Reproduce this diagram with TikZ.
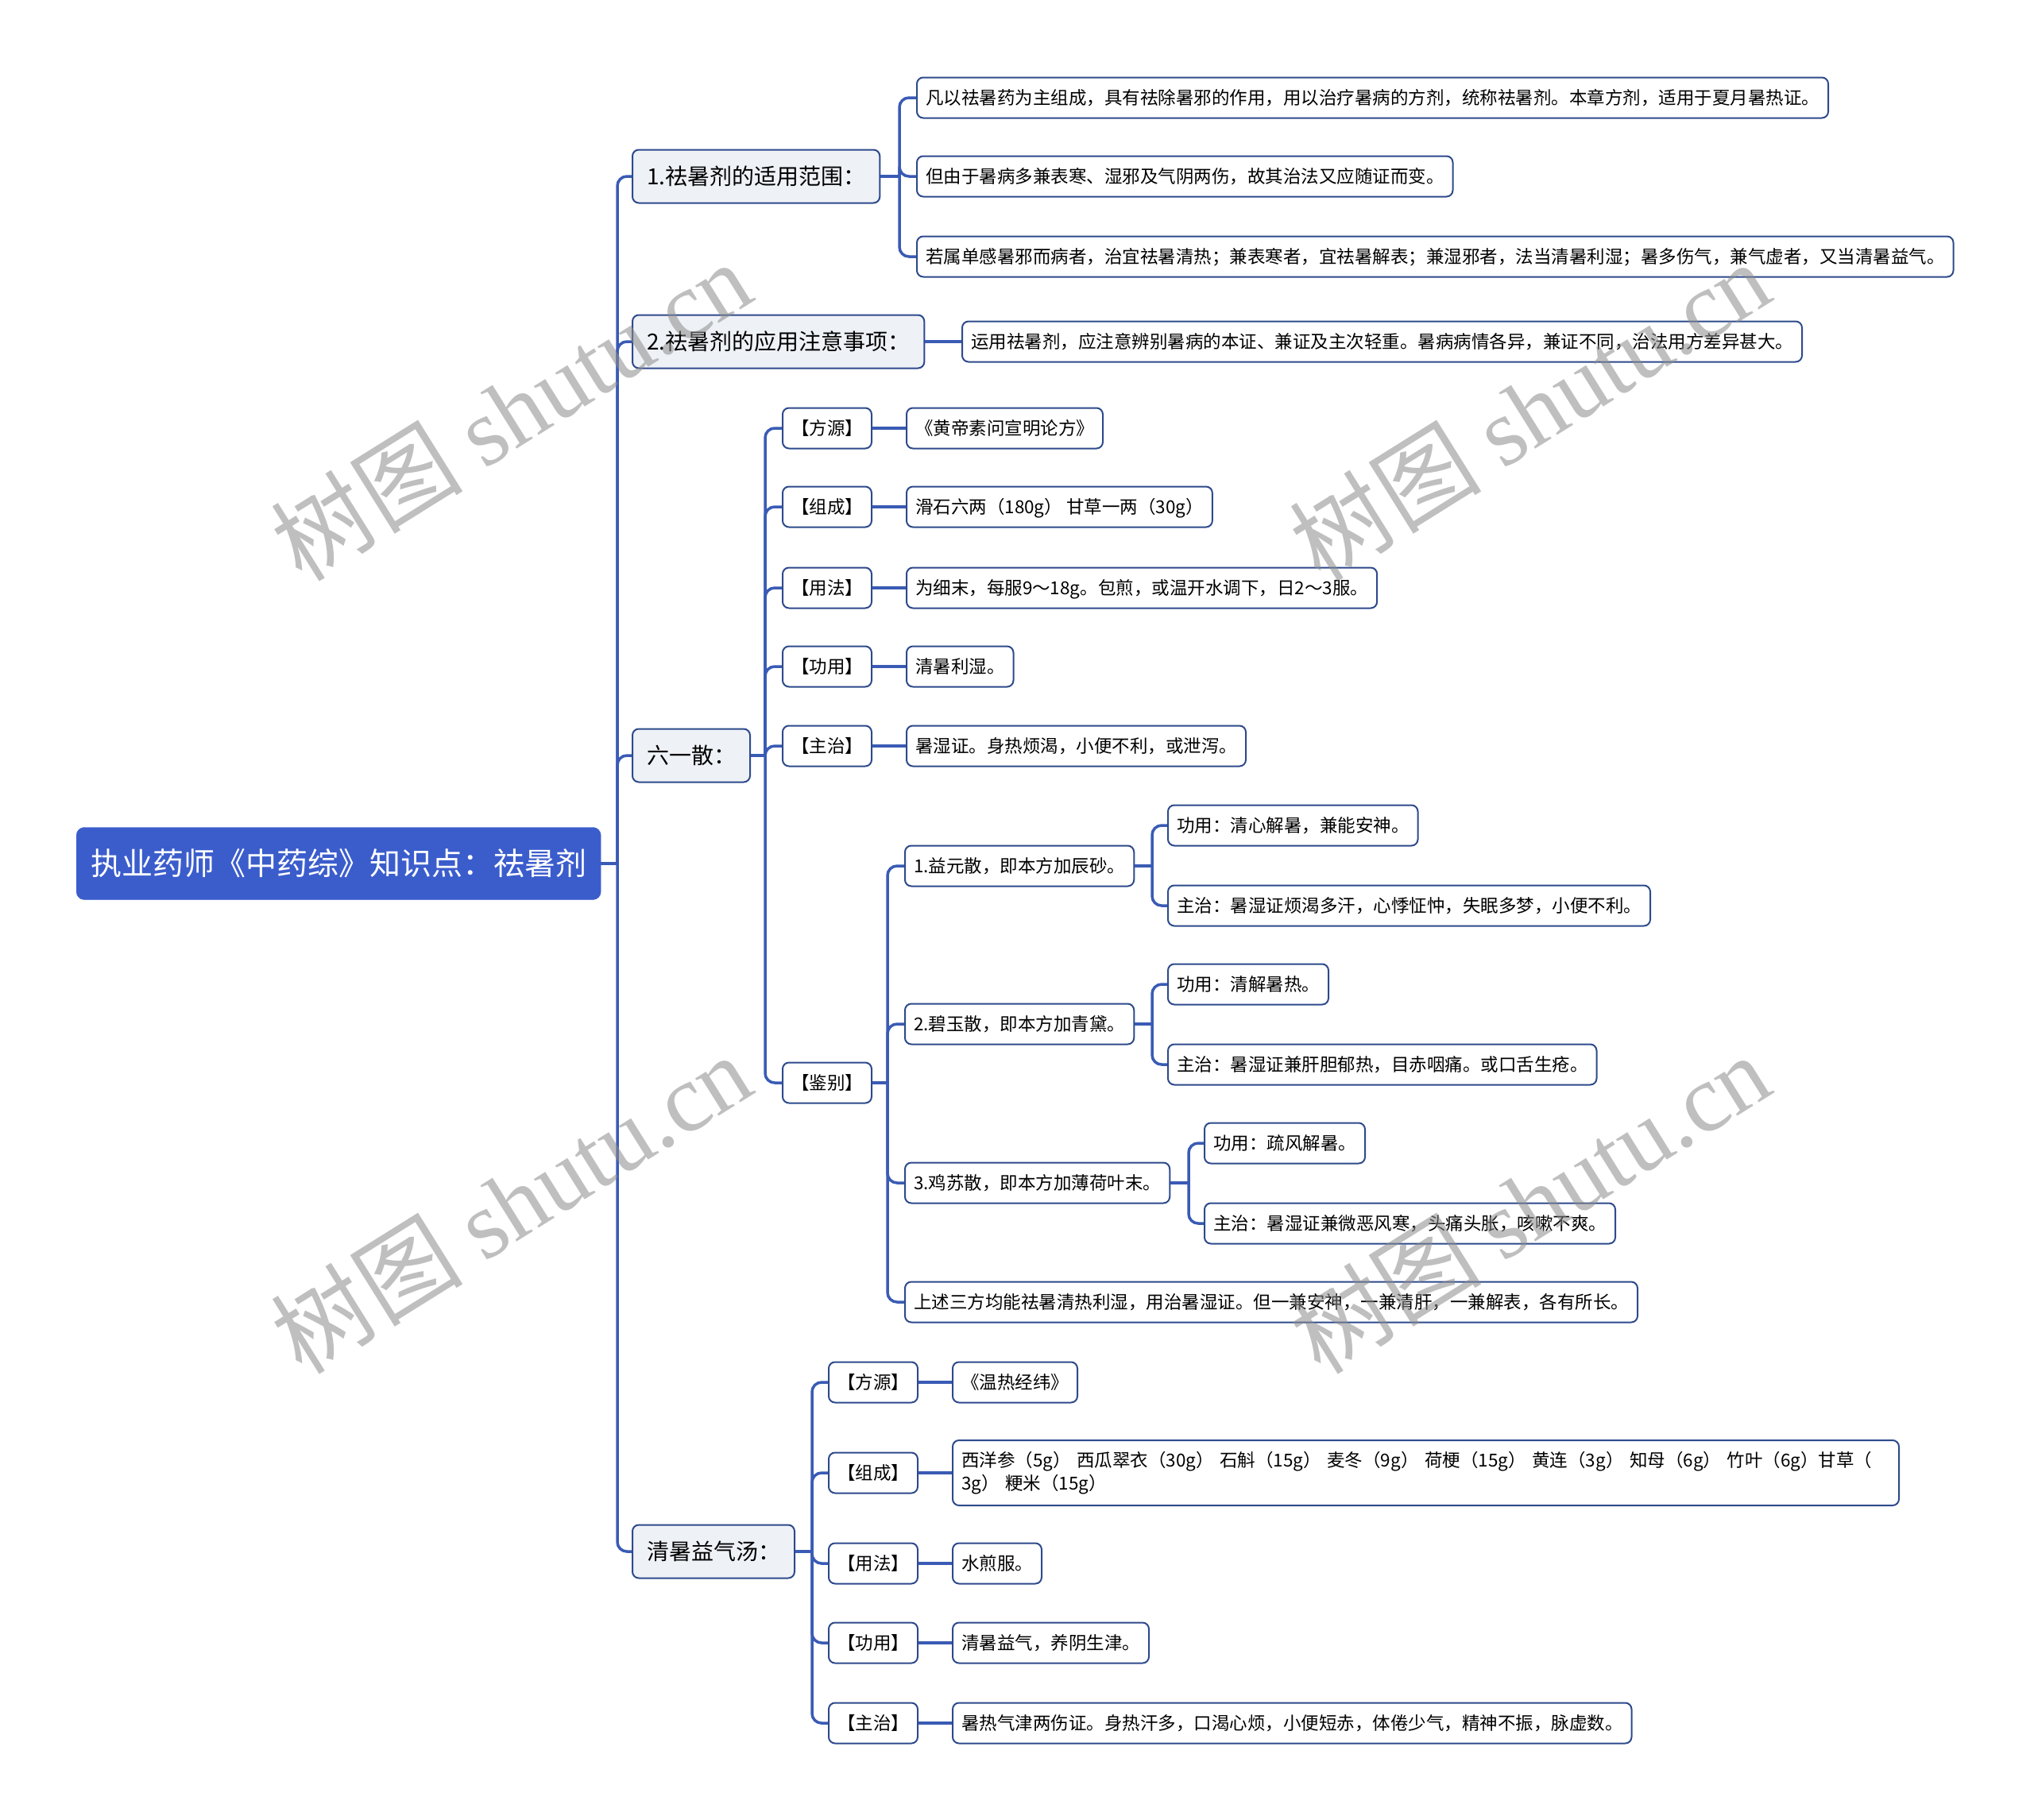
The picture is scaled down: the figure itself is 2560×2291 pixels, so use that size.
\documentclass[tikz,border=0pt]{standalone}
\usepackage{fontspec}
\setmainfont{Noto Sans CJK SC}
\newfontfamily\wmcjk{Noto Sans CJK SC}
\newfontfamily\wmlat{Liberation Serif}
\usetikzlibrary{positioning}
\definecolor{linec}{HTML}{3A5BB5}
\definecolor{boxc}{HTML}{2E4A8C}
\definecolor{rootc}{HTML}{3B5DCC}
\definecolor{lonefill}{HTML}{EEF1F6}
\tikzset{
  conn/.style={draw=linec, line width=3.5pt, rounded corners=12pt},
  boxbase/.style={rounded corners=8pt, line width=2pt, draw=boxc, anchor=west},
  leaf/.style={boxbase, text height=19.8pt, text depth=2.7pt, fill=white, font=\fontsize{22.5}{29}\selectfont, inner xsep=11pt, inner ysep=0pt, minimum height=51pt},
  leafml/.style={boxbase, fill=white, font=\fontsize{22.5}{29}\selectfont, inner xsep=11pt, inner ysep=0pt, minimum height=82pt, align=left},
  lvlone/.style={boxbase, text height=24.6pt, text depth=3.4pt, fill=lonefill, font=\fontsize{28}{34}\selectfont, inner xsep=18pt, inner ysep=0pt, minimum height=67pt},
  rootbox/.style={rounded corners=10pt, fill=rootc, draw=rootc, text=white, anchor=west, text height=34.3pt, text depth=4.7pt, font=\fontsize{39}{46}\selectfont, inner xsep=18pt, inner ysep=0pt, minimum height=91pt},
  wm/.style={rotate=32, text=black!45, text opacity=0.55, font=\fontsize{121}{136}\selectfont}
}
\begin{document}
\begin{tikzpicture}[x=1pt,y=-1pt]
\fill[white] (0,0) rectangle (2560,2291);
\useasboundingbox (0,0) rectangle (2560,2291);

% root and level one
\node[rootbox] (root) at (96,1087) {执业药师《中药综》知识点：祛暑剂};
\coordinate (j0) at (777,1087);
\node[lvlone] (n1) at (795,222) {1.祛暑剂的适用范围：};
\node[lvlone] (n2) at (795,430) {2.祛暑剂的应用注意事项：};
\node[lvlone] (n3) at (795,951) {六一散：};
\node[lvlone] (n4) at (795,1953) {清暑益气汤：};

% branch 1
\coordinate (j1) at (1132,222);
\node[leaf] (a1) at (1153,123) {凡以祛暑药为主组成，具有祛除暑邪的作用，用以治疗暑病的方剂，统称祛暑剂。本章方剂，适用于夏月暑热证。};
\node[leaf] (a2) at (1153,222) {但由于暑病多兼表寒、湿邪及气阴两伤，故其治法又应随证而变。};
\node[leaf] (a3) at (1153,323) {若属单感暑邪而病者，治宜祛暑清热；兼表寒者，宜祛暑解表；兼湿邪者，法当清暑利湿；暑多伤气，兼气虚者，又当清暑益气。};

% branch 2
\node[leaf] (b1) at (1210,430) {运用祛暑剂，应注意辨别暑病的本证、兼证及主次轻重。暑病病情各异，兼证不同，治法用方差异甚大。};

% branch 3
\coordinate (j3) at (963,951);
\node[leaf] (c1) at (984,539) {【方源】};
\node[leaf] (c2) at (984,638) {【组成】};
\node[leaf] (c3) at (984,740) {【用法】};
\node[leaf] (c4) at (984,839) {【功用】};
\node[leaf] (c5) at (984,939) {【主治】};
\node[leaf] (c6) at (984,1363) {【鉴别】};
\node[leaf, right=42pt of c1] (v1) {《黄帝素问宣明论方》};
\node[leaf, right=42pt of c2] (v2) {滑石六两（180g） 甘草一两（30g）};
\node[leaf, right=42pt of c3] (v3) {为细末，每服9～18g。包煎，或温开水调下，日2～3服。};
\node[leaf, right=42pt of c4] (v4) {清暑利湿。};
\node[leaf, right=42pt of c5] (v5) {暑湿证。身热烦渴，小便不利，或泄泻。};

\coordinate (j4) at (1117,1363);
\node[leaf] (d1) at (1138,1090) {1.益元散，即本方加辰砂。};
\node[leaf] (d2) at (1138,1289) {2.碧玉散，即本方加青黛。};
\node[leaf] (d3) at (1138,1489) {3.鸡苏散，即本方加薄荷叶末。};
\node[leaf] (d4) at (1138,1639) {上述三方均能祛暑清热利湿，用治暑湿证。但一兼安神，一兼清肝，一兼解表，各有所长。};

\coordinate (j5) at (1450,1090);
\node[leaf] (e1) at (1469,1039) {功用：清心解暑，兼能安神。};
\node[leaf] (e2) at (1469,1140) {主治：暑湿证烦渴多汗，心悸怔忡，失眠多梦，小便不利。};
\coordinate (j6) at (1450,1289);
\node[leaf] (e3) at (1469,1239) {功用：清解暑热。};
\node[leaf] (e4) at (1469,1340) {主治：暑湿证兼肝胆郁热，目赤咽痛。或口舌生疮。};
\coordinate (j7) at (1496,1489);
\node[leaf] (e5) at (1515,1439) {功用：疏风解暑。};
\node[leaf] (e6) at (1515,1540) {主治：暑湿证兼微恶风寒，头痛头胀，咳嗽不爽。};

% branch 4
\coordinate (j8) at (1022,1953);
\node[leaf] (f1) at (1042,1740) {【方源】};
\node[leaf] (f2) at (1042,1854) {【组成】};
\node[leaf] (f3) at (1042,1968) {【用法】};
\node[leaf] (f4) at (1042,2068) {【功用】};
\node[leaf] (f5) at (1042,2169) {【主治】};
\node[leaf, right=42pt of f1] (g1) {《温热经纬》};
\node[leafml, text width=1169pt, right=42pt of f2] (g2) {西洋参（5g） 西瓜翠衣（30g） 石斛（15g） 麦冬（9g） 荷梗（15g） 黄连（3g） 知母（6g） 竹叶（6g）甘草（\\3g） 粳米（15g）};
\node[leaf, right=42pt of f3] (g3) {水煎服。};
\node[leaf, right=42pt of f4] (g4) {清暑益气，养阴生津。};
\node[leaf, right=42pt of f5] (g5) {暑热气津两伤证。身热汗多，口渴心烦，小便短赤，体倦少气，精神不振，脉虚数。};

% connectors
\draw[conn] (root.east) -- (j0);
\foreach \c in {n1,n2,n3,n4} \draw[conn] (j0) |- (\c.west);
\draw[conn] (n1.east) -- (j1);
\foreach \c in {a1,a2,a3} \draw[conn] (j1) |- (\c.west);
\draw[conn] (n2.east) -- (b1.west);
\draw[conn] (n3.east) -- (j3);
\foreach \c in {c1,c2,c3,c4,c5,c6} \draw[conn] (j3) |- (\c.west);
\foreach \c/\v in {c1/v1,c2/v2,c3/v3,c4/v4,c5/v5} \draw[conn] (\c.east) -- (\v.west);
\draw[conn] (c6.east) -- (j4);
\foreach \c in {d1,d2,d3,d4} \draw[conn] (j4) |- (\c.west);
\draw[conn] (d1.east) -- (j5);
\foreach \c in {e1,e2} \draw[conn] (j5) |- (\c.west);
\draw[conn] (d2.east) -- (j6);
\foreach \c in {e3,e4} \draw[conn] (j6) |- (\c.west);
\draw[conn] (d3.east) -- (j7);
\foreach \c in {e5,e6} \draw[conn] (j7) |- (\c.west);
\draw[conn] (n4.east) -- (j8);
\foreach \c in {f1,f2,f3,f4,f5} \draw[conn] (j8) |- (\c.west);
\foreach \c/\v in {f1/g1,f2/g2,f3/g3,f4/g4,f5/g5} \draw[conn] (\c.east) -- (\v.west);

% watermarks
\node[wm] (w1) at (643,516) {{\wmcjk 树图} {\wmlat shutu.cn}};
\node[wm] (w2) at (1925,516) {{\wmcjk 树图} {\wmlat shutu.cn}};
\node[wm] (w3) at (643,1514) {{\wmcjk 树图} {\wmlat shutu.cn}};
\node[wm] (w4) at (1925,1514) {{\wmcjk 树图} {\wmlat shutu.cn}};
\end{tikzpicture}
\end{document}
